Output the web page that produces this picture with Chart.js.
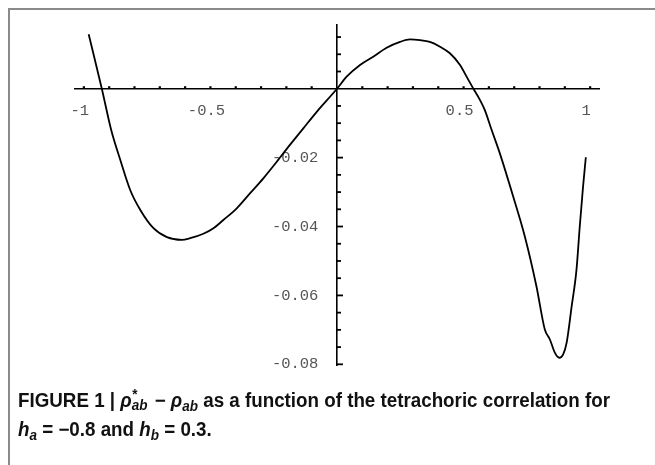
<!DOCTYPE html>
<html><head><meta charset="utf-8">
<script src="https://cdn.jsdelivr.net/npm/chart.js@4.4.0/dist/chart.umd.min.js"></script>
<style>
html,body{margin:0;padding:0;background:#fff;width:655px;height:465px;overflow:hidden;}
#frame{position:absolute;left:8px;top:8px;width:660px;height:470px;border-left:2px solid #8a8a8a;border-top:2px solid #8a8a8a;}
#wrap{position:absolute;left:0;top:0;width:655px;height:396px;}
#cap{position:absolute;left:18px;top:386px;font-family:"Liberation Sans Narrow","Liberation Sans",Arial,sans-serif;font-weight:bold;font-size:19.5px;line-height:29px;color:#111;white-space:nowrap;transform-origin:0 0;}
#cap i{font-style:italic;}
#cap sub{font-size:0.72em;vertical-align:-0.3em;line-height:0;}
.ss{position:relative;display:inline-block;width:0.95em;height:0.7em;}
.ss .a{position:absolute;left:0.05em;top:-0.45em;font-size:0.72em;line-height:1;}
.ss .b{position:absolute;left:0;top:0.33em;font-size:0.72em;line-height:1;}
</style></head>
<body>
<div id="frame"></div>
<div id="wrap"><canvas id="c" width="655" height="396"></canvas></div>
<div id="cap">FIGURE 1 | <i>ρ</i><span class="ss"><span class="a">*</span><i class="b">ab</i></span> − <i>ρ</i><sub><i>ab</i></sub> as a function of the tetrachoric correlation for<br><i>h</i><sub><i>a</i></sub> = −0.8 and <i>h</i><sub><i>b</i></sub> = 0.3.</div>
<script>
const xValues = [-0.981,-0.929,-0.892,-0.856,-0.817,-0.777,-0.725,-0.672,-0.613,-0.580,-0.528,-0.488,-0.449,-0.396,-0.343,-0.291,-0.238,-0.186,-0.133,-0.080,0,0.038,0.091,0.143,0.196,0.249,0.288,0.328,0.367,0.407,0.446,0.486,0.512,0.538,0.565,0.584,0.611,0.643,0.696,0.742,0.788,0.821,0.841,0.861,0.878,0.893,0.907,0.927,0.946,0.959,0.972,0.983];
const yValues = [0.0158,0,-0.0120,-0.0207,-0.0294,-0.0352,-0.0405,-0.0431,-0.0439,-0.0434,-0.0421,-0.0405,-0.0381,-0.0347,-0.0303,-0.0260,-0.0212,-0.0163,-0.0115,-0.0067,0,0.0035,0.0069,0.0093,0.0119,0.0136,0.0143,0.0141,0.0136,0.0122,0.0103,0.0069,0.0035,0.0001,-0.0033,-0.0062,-0.0120,-0.0187,-0.0313,-0.0429,-0.0574,-0.0699,-0.0728,-0.0767,-0.0781,-0.0772,-0.0738,-0.0632,-0.0526,-0.0400,-0.0284,-0.0199];
const xTickLabels = [-1,-0.5,0.5,1];
const yTickLabels = [-0.02,-0.04,-0.06,-0.08];

// fit caption line width to the reference
(function(){
  const cap = document.getElementById('cap');
  const r = document.createRange();
  r.setStart(cap.firstChild,0);
  r.setEndBefore(cap.querySelector('br'));
  const w = r.getBoundingClientRect().width;
  if (w > 0) cap.style.transform = 'scaleX(' + (592 / w) + ')';
})();

const points = xValues.map((x,i)=>({x:x,y:yValues[i]}));
const near = (a,b)=>Math.abs(a-b)<1e-9;

const tickMarks = {
  id:'tickMarks',
  afterDatasetsDraw(chart){
    const {ctx, scales:{x,y}} = chart;
    const x0 = x.getPixelForValue(0), y0 = y.getPixelForValue(0);
    ctx.save();
    ctx.strokeStyle='#000';
    ctx.lineWidth=2.2;
    x.ticks.forEach(t=>{
      if (near(t.value,0)) return;
      const px = x.getPixelForValue(t.value);
      ctx.beginPath(); ctx.moveTo(px,y0); ctx.lineTo(px,y0-2.5); ctx.stroke();
    });
    ctx.lineWidth=1.8;
    y.ticks.forEach(t=>{
      if (near(t.value,0)) return;
      const major = yTickLabels.some(v=>near(v,t.value));
      const py = y.getPixelForValue(t.value);
      ctx.beginPath(); ctx.moveTo(x0,py); ctx.lineTo(x0+(major?6:4),py); ctx.stroke();
    });
    ctx.restore();
  }
};

new Chart(document.getElementById('c'), {
  type:'line',
  data:{datasets:[{data:points, borderColor:'#000', borderWidth:1.8, pointRadius:0, cubicInterpolationMode:'monotone', fill:false}]},
  options:{
    responsive:false, animation:false,
    layout:{padding:{left:75, right:56, top:25, bottom:31}},
    plugins:{legend:{display:false}, tooltip:{enabled:false}},
    scales:{
      x:{type:'linear', min:-1.035, max:1.035, position:{y:0},
        afterFit(s){ s.height = 0; },
        grid:{display:true, drawOnChartArea:false, drawTicks:false},
        border:{display:true, color:'#000', width:1.6},
        ticks:{stepSize:0.1, includeBounds:false, autoSkip:false, maxRotation:0, minRotation:0,
          padding:13, labelOffset:-4, color:'#555', font:{family:'Liberation Mono', size:15.5},
          callback:(v)=>{ const m = xTickLabels.find(t=>near(t,v)); return m===undefined ? '' : String(m); }}
      },
      y:{type:'linear', min:-0.0802, max:0.0185, position:{x:0},
        afterFit(s){ s.width = 0; },
        grid:{display:true, drawOnChartArea:false, drawTicks:false},
        border:{display:true, color:'#000', width:1.6},
        ticks:{stepSize:0.005, includeBounds:false, autoSkip:false,
          padding:0, color:'#555', font:{family:'Liberation Mono', size:15.5},
          callback:(v)=>{ const m = yTickLabels.find(t=>near(t,v)); return m===undefined ? '' : String(m) + '  '; }}
      }
    }
  },
  plugins:[tickMarks]
});
</script>
</body></html>
